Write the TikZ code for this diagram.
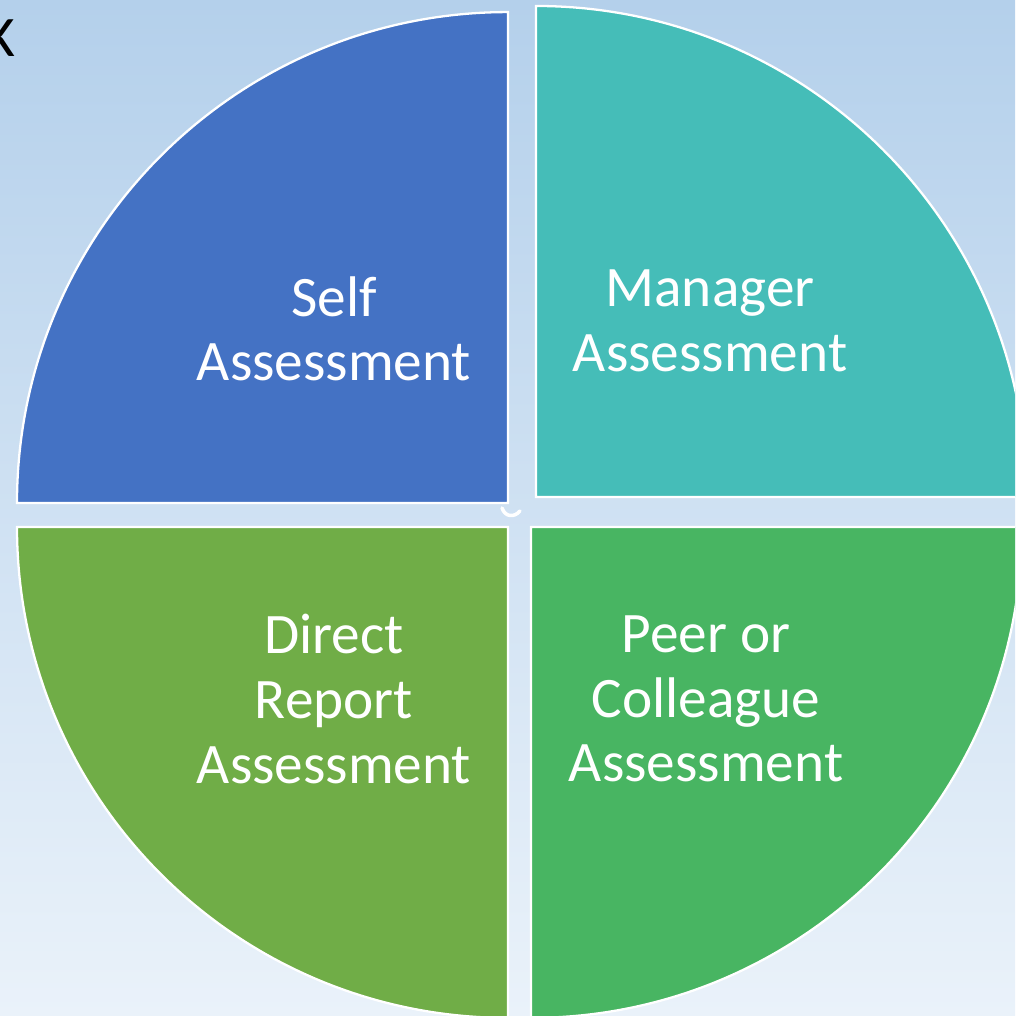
\documentclass[tikz,border=0pt]{standalone}
\usepackage{fontspec}
\setmainfont{Carlito}
\definecolor{selfblue}{RGB}{68,114,196}
\definecolor{mgrteal}{RGB}{69,189,184}
\definecolor{dirgreen}{RGB}{112,173,71}
\definecolor{peergreen}{RGB}{72,181,98}
\definecolor{bgtop}{RGB}{180,208,235}
\definecolor{bgbot}{RGB}{234,242,250}
\begin{document}
\begin{tikzpicture}[
  x=0.02cm, y=0.02cm,
  every node/.style={font=\fontsize{32.6}{36.8}\selectfont},
  sector/.style={draw=white, line width=1.3pt},
  lbl/.style={text=white, align=center}
]
\useasboundingbox (0,0) rectangle (1015,1016);
\clip (0,0) rectangle (1015,1016);
\shade[top color=bgtop, bottom color=bgbot] (0,0) rectangle (1015,1016);

% the four quarters, each pulled a little apart
\draw[sector, fill=selfblue] (508,513) -- ++(-491,0) arc[start angle=180, end angle=90, radius=9.82cm] -- cycle;
\draw[sector, fill=mgrteal] (536,519) -- ++(0,491) arc[start angle=90, end angle=0, radius=9.82cm] -- cycle;
\draw[sector, fill=dirgreen] (508,489) -- ++(-491,0) arc[start angle=180, end angle=270, radius=9.82cm] -- cycle;
\draw[sector, fill=peergreen] (531,489) -- ++(491,0) arc[start angle=0, end angle=-90, radius=9.82cm] -- cycle;

% small mark in the gap
\draw[white, line width=2pt, line cap=round] (502,508) .. controls (505,499) and (514,498) .. (520,505);

\node[lbl] (self) at (334,687) {Self\\Assessment};
\node[lbl] (manager) at (710,695) {Manager\\Assessment};
\node[lbl] (direct) at (334,317) {Direct\\Report\\Assessment};
\node[lbl] (peer) at (706,317) {Peer or\\Colleague\\Assessment};

\node[anchor=base east, inner sep=0pt] (kay) at (16,959) {K};
\end{tikzpicture}
\end{document}
